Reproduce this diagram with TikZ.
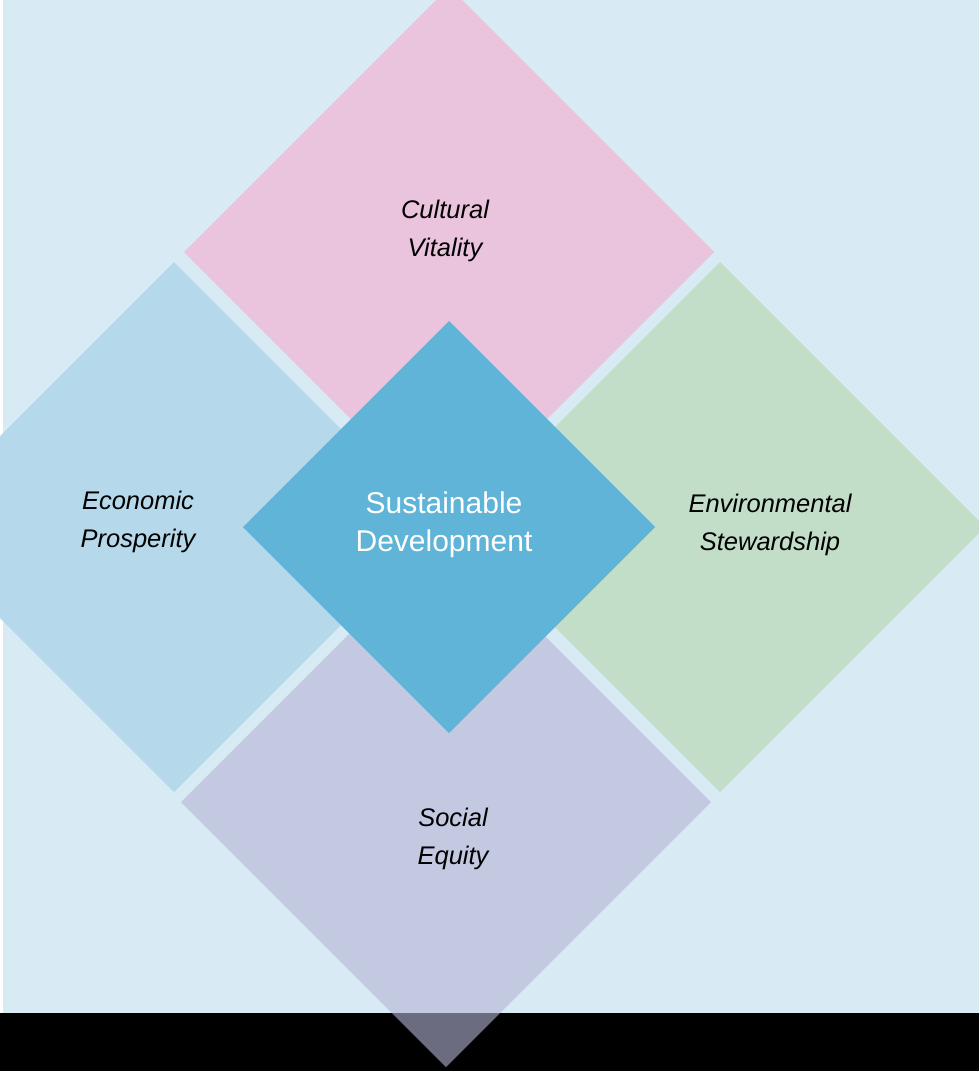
\documentclass[tikz,border=0pt]{standalone}
\usepackage{fontspec}
\setmainfont{Liberation Sans}
\usetikzlibrary{shapes.geometric}
\definecolor{bgc}{HTML}{D8EAF4}
\definecolor{pinkc}{HTML}{EAC4DC}
\definecolor{lbluec}{HTML}{B5D9EB}
\definecolor{greenc}{HTML}{C3DEC8}
\definecolor{lavc}{HTML}{C3C9E1}
\definecolor{centc}{HTML}{5FB4D7}
\definecolor{bandc}{HTML}{6B6C80}
\tikzset{
  petal/.style={shape=diamond, aspect=1, inner sep=0pt, outer sep=0pt, minimum width=530pt, minimum height=530pt, draw=none},
  core/.style={shape=diamond, aspect=1, inner sep=0pt, outer sep=0pt, minimum width=412pt, minimum height=412pt, draw=none, fill=centc},
  lbl/.style={align=center, font=\fontsize{25.5}{37.5}\selectfont\itshape, text=black, inner sep=0pt},
  corelbl/.style={align=center, font=\fontsize{30}{38}\selectfont, text=white, inner sep=0pt}
}
\begin{document}
\begin{tikzpicture}[x=1pt,y=-1pt]
\useasboundingbox (0,0) rectangle (979,1071);
\fill[white] (0,0) rectangle (979,1071);
\fill[bgc] (3,0) rectangle (979,1013);
\node[petal, fill=pinkc] (cul) at (449,252) {};
\node[petal, fill=lbluec] (eco) at (174,527) {};
\node[petal, fill=greenc] (env) at (720,527) {};
\node[petal, fill=lavc] (soc) at (446,802) {};
\node[core] (sd) at (449,527) {};
\fill[black] (0,1013) rectangle (979,1071);
\begin{scope}
\clip (0,1013) rectangle (979,1071);
\fill[bandc] (soc.north) -- (soc.east) -- (soc.south) -- (soc.west) -- cycle;
\end{scope}
\node[lbl] (tcul) at (445,231) {Cultural\\Vitality};
\node[lbl] (teco) at (138,522) {Economic\\Prosperity};
\node[lbl] (tenv) at (770,525) {Environmental\\Stewardship};
\node[lbl] (tsoc) at (453,839) {Social\\Equity};
\node[corelbl] (tsd) at (444,525) {Sustainable\\Development};
\end{tikzpicture}
\end{document}
